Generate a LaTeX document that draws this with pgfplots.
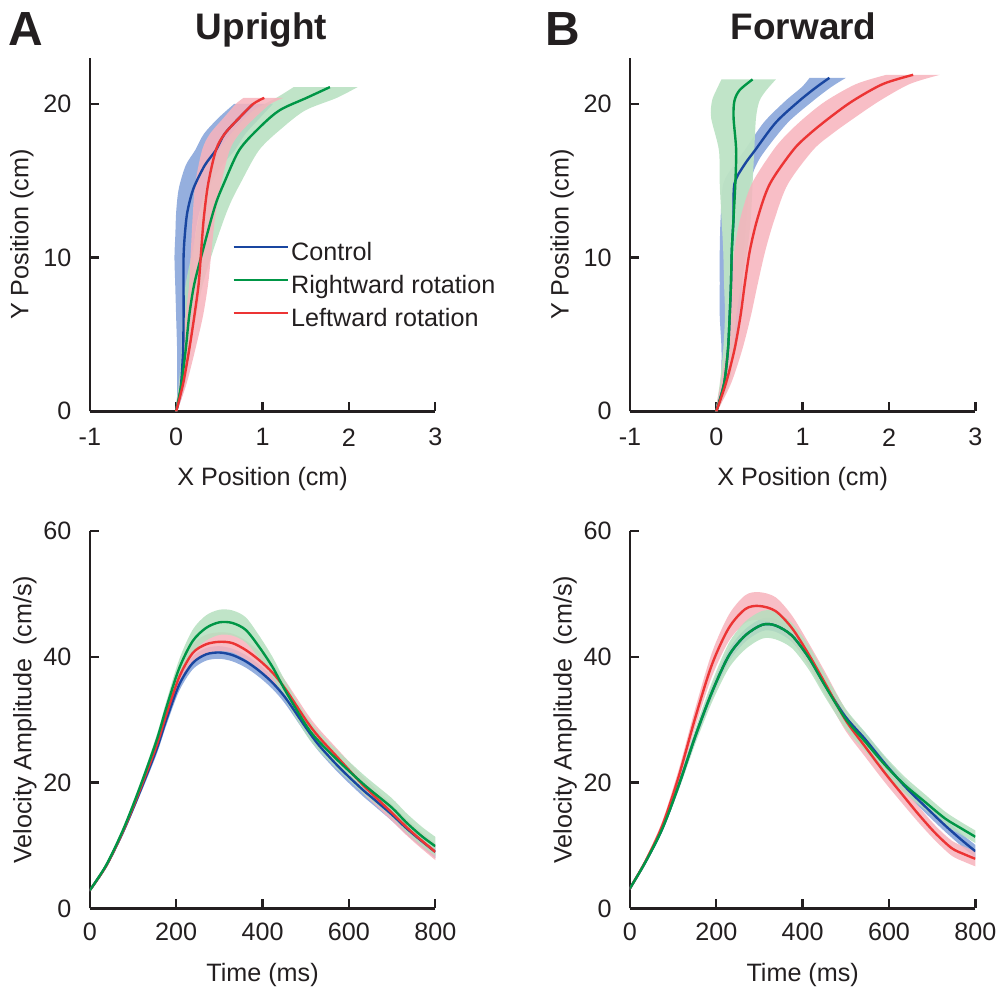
\documentclass[border=0pt]{standalone}
\usepackage{pgfplots}
\pgfplotsset{compat=1.18}
\usepackage{pgfplotstable}
\usepgfplotslibrary{fillbetween}
\usepackage{fontspec}
\setmainfont{Liberation Sans}

\definecolor{ctrlline}{RGB}{25,70,160}
\definecolor{ctrlband}{RGB}{131,161,216}
\definecolor{rightline}{RGB}{0,150,70}
\definecolor{rightband}{RGB}{181,223,190}
\definecolor{rightbandB}{RGB}{189,227,197}
\definecolor{leftline}{RGB}{236,52,52}
\definecolor{leftband}{RGB}{247,179,188}
\definecolor{axcol}{RGB}{35,31,32}

% ---- trajectories: x = mean, lo/hi = band edges (cm) ----
\pgfplotstableread{
x y lo hi
0 0 -0.01 0.01
0.04 1 0.01 0.07
0.06 2 0.01 0.11
0.08 4 0.01 0.15
0.085 6 0.00 0.18
0.085 8 -0.01 0.19
0.085 10 -0.02 0.20
0.10 11.5 -0.01 0.22
0.13 13 0.00 0.27
0.20 14.5 0.03 0.37
0.33 16 0.11 0.53
0.46 17 0.22 0.68
0.56 18.05 0.32 0.80
0.73 19.1 0.49 0.97
0.89 20 0.67 1.12
}\ctrlU
\pgfplotstableread{
x y lo hi
0 0 -0.01 0.01
0.06 1.8 0.03 0.09
0.11 4 0.06 0.16
0.15 6.2 0.07 0.23
0.21 8.3 0.11 0.31
0.31 10.5 0.19 0.43
0.41 12.6 0.26 0.56
0.47 13.7 0.30 0.64
0.55 14.8 0.36 0.74
0.73 17 0.50 0.96
0.97 18.5 0.70 1.24
1.20 19.6 0.90 1.50
1.51 20.4 1.16 1.86
1.78 21.1 1.36 2.10
}\rightU
\pgfplotstableread{
x y lo hi
0 0 -0.01 0.01
0.08 1.8 0.04 0.12
0.15 4 0.08 0.22
0.21 6.2 0.11 0.31
0.26 8.3 0.15 0.37
0.29 10.5 0.17 0.41
0.32 12.6 0.19 0.45
0.37 14.8 0.22 0.52
0.46 17 0.30 0.62
0.56 18.05 0.39 0.73
0.73 19.1 0.55 0.91
0.89 20 0.69 1.09
1.02 20.4 0.78 1.24
}\leftU
\pgfplotstableread{
x y lo hi
0 0 -0.01 0.01
0.09 1.8 0.05 0.13
0.135 4 0.06 0.21
0.155 6.2 0.04 0.27
0.17 8.3 0.04 0.30
0.18 10.5 0.04 0.32
0.20 12.6 0.05 0.35
0.21 14.8 0.08 0.39
0.32 16 0.20 0.46
0.45 17 0.33 0.57
0.69 18.8 0.55 0.83
0.96 20.2 0.80 1.12
1.16 21.1 0.99 1.33
1.31 21.7 1.08 1.50
}\ctrlF
\pgfplotstableread{
x y lo hi
0 0 -0.01 0.01
0.09 1.8 0.04 0.15
0.135 4 0.08 0.20
0.155 6.2 0.10 0.23
0.17 8.3 0.09 0.29
0.18 10.5 0.08 0.36
0.20 12.6 0.06 0.40
0.22 14.8 0.04 0.42
0.23 17 0.03 0.44
0.20 19.1 -0.06 0.46
0.21 20.2 -0.05 0.50
0.27 20.9 0.00 0.58
0.42 21.6 0.06 0.69
}\rightF
\pgfplotstableread{
x y lo hi
0 0 -0.01 0.01
0.11 1.8 0.05 0.17
0.21 4 0.12 0.30
0.28 6.2 0.16 0.40
0.33 8.3 0.18 0.48
0.39 10.5 0.21 0.57
0.48 12.6 0.28 0.68
0.62 14.8 0.41 0.83
0.89 17 0.66 1.12
1.08 18.05 0.82 1.34
1.31 19.1 1.02 1.60
1.58 20.2 1.27 1.89
1.93 21.3 1.62 2.24
2.28 21.9 1.97 2.59
}\leftF

% ---- velocity profiles: t (ms), v = mean, lo/hi band (cm/s) ----
\pgfplotstableread{
t v lo hi
0 2.9 2.7 3.1
38 6.8 6.5 7.1
77 12.2 11.8 12.6
115 18.4 17.8 19.0
154 25.2 24.4 26.0
177 30.0 29.1 30.9
207 35.6 34.6 36.6
238 39.0 38.0 40.0
269 40.4 39.4 41.4
300 40.7 39.7 41.7
330 40.3 39.3 41.3
361 39.3 38.3 40.3
392 37.8 36.8 38.8
423 35.9 34.9 36.9
453 33.5 32.5 34.5
502 28.6 27.6 29.6
530 26.0 25.0 27.0
578 22.4 21.4 23.4
630 19.0 18.0 20.0
654 17.6 16.6 18.6
700 14.9 13.9 15.9
731 12.9 11.9 13.9
760 11.2 10.2 12.2
800 9.0 8.0 10.0
}\ctrlUv
\pgfplotstableread{
t v lo hi
0 2.9 2.7 3.1
38 6.8 6.5 7.1
77 12.3 11.9 12.7
115 18.7 18.1 19.3
154 25.8 25.0 26.6
177 30.8 29.8 31.8
207 36.8 35.6 38.0
238 40.6 39.2 42.0
269 42.0 40.5 43.5
300 42.4 40.9 43.9
330 42.2 40.7 43.7
361 41.1 39.6 42.6
392 39.5 38.1 40.9
423 37.5 36.1 38.9
453 34.9 33.6 36.2
502 29.8 28.5 31.1
530 27.3 26.0 28.6
578 23.7 22.4 25.0
630 19.8 18.5 21.1
654 18.2 16.9 19.5
700 15.2 13.9 16.5
731 13.1 11.8 14.4
760 11.3 10.0 12.6
800 9.0 7.7 10.3
}\leftUv
\pgfplotstableread{
t v lo hi
0 2.9 2.7 3.1
38 6.9 6.6 7.2
77 12.5 12.1 12.9
115 19.1 18.5 19.7
154 26.6 25.8 27.4
177 31.9 30.9 32.9
207 38.2 36.8 39.6
238 42.5 40.7 44.3
269 44.6 42.6 46.6
300 45.5 43.5 47.5
330 45.4 43.4 47.4
361 44.3 42.3 46.3
392 41.6 39.8 43.4
423 38.4 36.8 40.0
453 34.6 33.1 36.1
502 29.0 27.5 30.5
530 26.6 25.1 28.1
578 23.3 21.8 24.8
630 20.0 18.5 21.5
654 18.6 17.1 20.1
700 16.0 14.5 17.5
731 13.8 12.3 15.3
760 12.0 10.5 13.5
776 11.1 9.6 12.6
800 9.9 8.4 11.4
}\rightUv
\pgfplotstableread{
t v lo hi
0 3.2 3.0 3.4
36 7.4 7.1 7.7
75 12.7 12.3 13.1
113 19.6 19.0 20.2
152 27.5 26.7 28.3
190 34.4 33.4 35.4
229 40.2 39.2 41.2
267 43.4 42.4 44.4
306 45.1 44.1 46.1
337 45.0 44.0 46.0
375 43.4 42.4 44.4
414 39.9 38.9 40.9
452 35.5 34.5 36.5
499 30.5 29.5 31.5
545 26.9 25.9 27.9
591 23.0 22.0 24.0
637 19.4 18.4 20.4
684 16.2 15.2 17.2
730 13.2 12.2 14.2
768 10.9 9.9 11.9
800 9.1 8.1 10.1
}\ctrlFv
\pgfplotstableread{
t v lo hi
0 3.2 3.0 3.4
36 7.5 7.1 7.9
75 13.2 12.5 13.9
113 21.0 19.9 22.1
152 30.5 29.0 32.0
190 38.8 36.9 40.7
229 44.6 42.5 46.7
267 47.6 45.4 49.8
299 48.1 45.9 50.3
337 47.3 45.1 49.5
375 44.6 42.6 46.6
414 40.4 38.6 42.2
452 35.8 34.0 37.6
499 30.0 28.3 31.7
545 25.7 24.1 27.3
591 21.5 20.0 23.0
637 17.6 16.2 19.0
668 15.0 13.7 16.3
707 12.0 10.8 13.2
745 9.6 8.4 10.8
775 8.6 7.4 9.8
800 7.9 6.7 9.1
}\leftFv
\pgfplotstableread{
t v lo hi
0 3.2 3.0 3.4
36 7.4 7.1 7.7
75 12.7 12.2 13.2
113 19.6 18.8 20.4
152 27.5 26.3 28.7
190 34.4 32.8 36.0
229 40.2 38.2 42.2
267 43.4 41.2 45.6
306 45.1 42.9 47.3
337 45.0 42.8 47.2
375 43.4 41.4 45.4
414 39.9 38.0 41.8
452 35.4 33.6 37.2
499 30.2 28.6 31.8
545 26.5 25.0 28.0
591 22.8 21.4 24.2
637 19.6 18.3 20.9
684 16.9 15.7 18.1
730 14.3 13.2 15.4
768 12.7 11.7 13.7
800 11.4 10.4 12.4
}\rightFv

% band + mean line, trajectories (band spread along x); #5 = band opacity
\newcommand{\bandXY}[5]{%
  \addplot[draw=none, smooth, forget plot, name path=#2lo] table[x=lo,y=y]{#1};
  \addplot[draw=none, smooth, forget plot, name path=#2hi] table[x=hi,y=y]{#1};
  \addplot[fill=#3, fill opacity=#5, draw=none, forget plot] fill between[of=#2lo and #2hi];
  \addplot[#4, line width=1.2pt, smooth, forget plot] table[x=x,y=y]{#1};
}
% band + mean line, velocity (band spread along y)
\newcommand{\bandTV}[4]{%
  \addplot[draw=none, smooth, forget plot, name path=#2lo] table[x=t,y=lo]{#1};
  \addplot[draw=none, smooth, forget plot, name path=#2hi] table[x=t,y=hi]{#1};
  \addplot[fill=#3, fill opacity=0.85, draw=none, forget plot] fill between[of=#2lo and #2hi];
  \addplot[#4, line width=1.2pt, smooth, forget plot] table[x=t,y=v]{#1};
}

\pgfplotsset{
  panel/.style={
    scale only axis, width=173pt,
    axis lines*=left,
    axis line style={-, line width=1.2pt, axcol},
    tick style={line width=1.2pt, axcol},
    tick align=inside, major tick length=4.5pt,
    tick label style={font=\fontsize{12.6}{15}\selectfont, text=axcol},
    label style={font=\fontsize{12.6}{15}\selectfont, text=axcol},
    /pgf/number format/assume math mode=true,
    xticklabel style={anchor=center, yshift=-13pt},
    yticklabel style={anchor=east, inner sep=0pt, xshift=-9pt},
  },
  traj/.style={panel, height=177pt,
    xmin=-1, xmax=3, ymin=0, ymax=23,
    xtick={-1,0,1,2,3}, ytick={0,10,20},
    xlabel={X Position (cm)}, ylabel={Y Position (cm)},
    xlabel style={at={(axis description cs:0.5,-0.192)}, anchor=center},
    ylabel style={at={(axis description cs:-0.1965,0.5)}, anchor=center},
  },
  velo/.style={panel, height=189pt,
    xmin=0, xmax=800, ymin=0, ymax=60,
    xtick={0,200,400,600,800}, ytick={0,20,40,60},
    xticklabel style={yshift=1.5pt},
    xlabel={Time (ms)}, ylabel={Velocity Amplitude\enspace(cm/s)},
    xlabel style={at={(axis description cs:0.5,-0.177)}, anchor=center},
    ylabel style={at={(axis description cs:-0.188,0.5)}, anchor=center},
  },
}

\begin{document}
\begin{tikzpicture}

% A: upright trajectories
\begin{axis}[traj, at={(45pt,290pt)}, anchor=south west,
  legend style={at={(axis description cs:0.413,0.4785)}, anchor=north west,
    draw=none, fill=none, inner sep=0pt, outer sep=0pt, row sep=4.5pt,
    font=\fontsize{12.6}{15}\selectfont,
    nodes={inner sep=0pt, text height=9pt, text depth=3pt, text=axcol},
    /tikz/every odd column/.append style={column sep=1.2pt},
    cells={anchor=west}},
  legend image code/.code={\draw[#1, line width=1.2pt] (0pt,3.6pt) -- (27pt,3.6pt);},
]
\bandXY{\ctrlU}{cu}{ctrlband}{ctrlline}{0.85}
\bandXY{\rightU}{ru}{rightband}{rightline}{0.85}
\bandXY{\leftU}{lu}{leftband}{leftline}{0.85}
\addlegendimage{ctrlline}\addlegendentry{Control}
\addlegendimage{rightline}\addlegendentry{Rightward rotation}
\addlegendimage{leftline}\addlegendentry{Leftward rotation}
\end{axis}

% B: forward trajectories
\begin{axis}[traj, at={(315.5pt,290pt)}, anchor=south west]
\bandXY{\ctrlF}{cf}{ctrlband}{ctrlline}{0.85}
\bandXY{\rightF}{rf}{rightbandB}{rightline}{0.95}
\bandXY{\leftF}{lf}{leftband}{leftline}{0.85}
\end{axis}

% A: upright velocity
\begin{axis}[velo, at={(45pt,41pt)}, anchor=south west]
\bandTV{\ctrlUv}{cv}{ctrlband}{ctrlline}
\bandTV{\leftUv}{lv}{leftband}{leftline}
\bandTV{\rightUv}{rv}{rightband}{rightline}
\end{axis}

% B: forward velocity
\begin{axis}[velo, at={(315.5pt,41pt)}, anchor=south west]
\bandTV{\ctrlFv}{cw}{ctrlband}{ctrlline}
\bandTV{\leftFv}{lw}{leftband}{leftline}
\bandTV{\rightFv}{rw}{rightband}{rightline}
\end{axis}

\node[font=\bfseries\fontsize{24}{26}\selectfont, text=axcol, inner sep=0pt] at (13pt,481.5pt) {A};
\node[font=\bfseries\fontsize{18.5}{21}\selectfont, text=axcol, inner sep=0pt] at (131pt,481pt) {Upright};
\node[font=\bfseries\fontsize{24}{26}\selectfont, text=axcol, inner sep=0pt] at (282pt,481.5pt) {B};
\node[font=\bfseries\fontsize{18.5}{21}\selectfont, text=axcol, inner sep=0pt] at (402.5pt,483pt) {Forward};
\path (0,0) rectangle (501.5pt,496pt);
\end{tikzpicture}
\end{document}
